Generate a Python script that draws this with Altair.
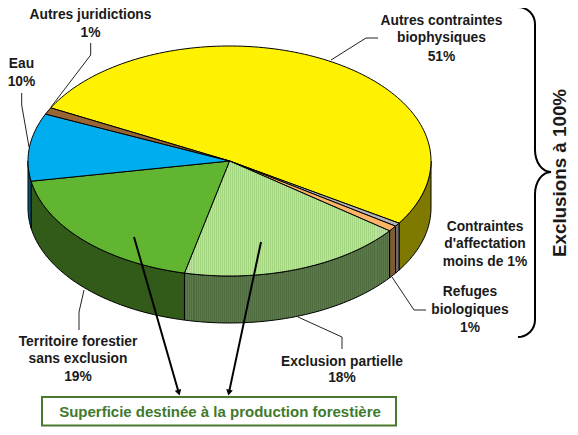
import math
import altair as alt
import pandas as pd

# ---- chart values ----
names = ["Autres contraintes biophysiques", "Contraintes d'affectation", "Refuges biologiques",
         "Exclusion partielle", "Territoire forestier sans exclusion", "Eau", "Autres juridictions"]
shares = [51.45, 0.5, 0.8, 18.2, 18.6, 9.5, 0.95]
top_colors = ["#FFF200", "#B4B4B4", "#FFB566", "#B5E096", "#62B531", "#00AEEF", "#996633"]
side_colors = ["#7F7900", "#6E6E6E", "#7F5B33", "#5C7A4B", "#325A19", "#005777", "#4C3319"]
start_angle = 152.5

label_lines = [
    (90.5, 15, "Autres juridictions"), (90.5, 33, "1%"),
    (21.5, 64, "Eau"), (21.5, 82, "10%"),
    (441.5, 21, "Autres contraintes"), (441.5, 38, "biophysiques"), (441.5, 57, "51%"),
    (485, 227, "Contraintes"), (485, 244, "d'affectation"), (485, 262, "moins de 1%"),
    (470, 292, "Refuges"), (470, 310, "biologiques"), (470, 328, "1%"),
    (342, 362, "Exclusion partielle"), (342, 378, "18%"),
    (78, 342, "Territoire forestier"), (78, 359, "sans exclusion"), (78, 377, "19%"),
]
leaders = [
    [(90.7, 43), (90.7, 55), (51, 107)],
    [(21.7, 93), (21.7, 105), (29, 147)],
    [(378, 38), (366, 38), (331, 60)],
    [(426, 310), (414, 310), (392, 277)],
    [(342, 349), (342, 337), (298, 317)],
    [(79, 330), (79, 312), (84, 290)],
]
arrows = [[(134, 237), (180, 397)], [(261, 242), (228, 397)]]

# ---- geometry helpers (pie is projected as an ellipse) ----
CX, CY, RX, RY, DEPTH = 229.5, 161, 201.5, 115, 47


def rim(t, dy=0):
    r = math.radians(t)
    return [CX + RX * math.cos(r), CY - RY * math.sin(r) + dy]


def arc(a, b, dy=0):
    n = max(2, int(abs(b - a) / 1.5) + 1)
    return [rim(a + (b - a) * i / (n - 1), dy) for i in range(n)]


def poly(points, name):
    pts = list(points) + [points[0]]
    return {"type": "Feature", "properties": {"name": name},
            "geometry": {"type": "Polygon", "coordinates": [pts]}}


def stripes(c1, c2, width, period=2.0):
    n = int(width / period)
    stops = []
    for i in range(n):
        a, b, c = i / n, (i + 0.5) / n, (i + 1) / n
        stops += [alt.GradientStop(offset=a, color=c1), alt.GradientStop(offset=b, color=c1),
                  alt.GradientStop(offset=b, color=c2), alt.GradientStop(offset=c, color=c2)]
    return alt.Gradient(gradient="linear", stops=stops, x1=0, x2=1, y1=0, y2=0)


proj = alt.Projection(type="identity", scale=1, translate=[-8, -8])
xs = alt.Scale(domain=[8, 570], range=[0, 562])
ys = alt.Scale(domain=[8, 427], range=[0, 419])

layers = []


def shape_layer(feature, fill, width=1.0):
    return alt.Chart(alt.Data(values=[feature], format=alt.DataFormat(type="json"))).mark_geoshape(
        fill=fill, stroke="#000000", strokeWidth=width, strokeJoin="round"
    ).project(**proj.to_dict())


angle = start_angle
spans = []
for s in shares:
    spans.append((angle, angle - s * 3.6))
    angle -= s * 3.6

# visible side walls (front half of the rim only)
for i, (a, b) in enumerate(spans):
    for off in (0, 360):
        hi = min(a + off, 0)
        lo = max(b + off, -180)
        if hi > lo:
            pts = arc(hi, lo) + arc(lo, hi, DEPTH)
            fill = side_colors[i]
            if i == 3:
                fill = stripes("#5C7A4B", "#4E6C3E", max(p[0] for p in pts) - min(p[0] for p in pts))
            layers.append(shape_layer(poly(pts, names[i]), fill))

# top wedges
for i, (a, b) in enumerate(spans):
    pts = [[CX, CY]] + arc(a, b)
    fill = top_colors[i]
    if i == 3:
        fill = stripes("#BCE4A0", "#A4D682", max(p[0] for p in pts) - min(p[0] for p in pts))
    layers.append(shape_layer(poly(pts, names[i]), fill))

# leader lines
rows = []
for k, line in enumerate(leaders):
    for j, (x, y) in enumerate(line):
        rows.append({"id": k, "o": j, "x": x, "y": y})
layers.append(alt.Chart(pd.DataFrame(rows)).mark_line(color="#222222", strokeWidth=1).encode(
    x=alt.X("x:Q", scale=xs, axis=None), y=alt.Y("y:Q", scale=ys, axis=None),
    detail="id:N", order="o:Q"))

# arrows
rows, heads = [], []
for k, ((x0, y0), (x1, y1)) in enumerate(arrows):
    L = math.hypot(x1 - x0, y1 - y0)
    ux, uy = (x1 - x0) / L, (y1 - y0) / L
    rows += [{"id": k, "o": 0, "x": x0, "y": y0}, {"id": k, "o": 1, "x": x1 - ux * 5, "y": y1 - uy * 5}]
    ang = (-math.degrees(math.atan2(ux, uy))) % 360
    heads.append({"x": x1 - ux * 4.5, "y": y1 - uy * 4.5, "a": ang})
layers.append(alt.Chart(pd.DataFrame(rows)).mark_line(color="#000000", strokeWidth=2).encode(
    x=alt.X("x:Q", scale=xs, axis=None), y=alt.Y("y:Q", scale=ys, axis=None),
    detail="id:N", order="o:Q"))
layers.append(alt.Chart(pd.DataFrame(heads)).mark_point(shape="triangle-down", filled=True, color="#000000", size=45, opacity=1).encode(
    x=alt.X("x:Q", scale=xs, axis=None), y=alt.Y("y:Q", scale=ys, axis=None),
    angle=alt.Angle("a:Q", scale=None)))

# brace (moved slightly left: the page gives the chart only 562 px of width)
BX, BR = 535, 17
brace = []


def quarter(cx, cy, a, b, rx, ry):
    for i in range(9):
        t = math.radians(a + (b - a) * i / 8)
        brace.append({"x": cx + rx * math.cos(t), "y": cy + ry * math.sin(t)})


quarter(BX - BR, 7 + BR, -90, 0, BR, BR)
quarter(BX + 16, 150, 180, 90, 16, 22)
quarter(BX + 16, 194, 270, 180, 16, 22)
quarter(BX - BR, 337 - BR, 0, 90, BR, BR)
for o, r in enumerate(brace):
    r["o"] = o
layers.append(alt.Chart(pd.DataFrame(brace)).mark_line(color="#000000", strokeWidth=2).encode(
    x=alt.X("x:Q", scale=xs, axis=None), y=alt.Y("y:Q", scale=ys, axis=None), order="o:Q"))

# box
layers.append(alt.Chart(pd.DataFrame([{"x": 42, "x2": 396, "y": 397, "y2": 425.5}])).mark_rect(
    fill="#FFFFFF", stroke="#4A7A2E", strokeWidth=2).encode(
    x=alt.X("x:Q", scale=xs, axis=None), x2="x2:Q", y=alt.Y("y:Q", scale=ys, axis=None), y2="y2:Q"))

FONT = "Liberation Sans"
layers.append(alt.Chart(pd.DataFrame([{"x": 220, "y": 412, "t": "Superficie destinée à la production forestière"}])).mark_text(
    font=FONT, fontSize=15, fontWeight="bold", color="#3F7A2D", align="center", baseline="middle").encode(
    x=alt.X("x:Q", scale=xs, axis=None), y=alt.Y("y:Q", scale=ys, axis=None), text="t:N"))

layers.append(alt.Chart(pd.DataFrame(label_lines, columns=["x", "y", "t"])).mark_text(
    font=FONT, fontSize=13.8, fontWeight="bold", color="#1A1A1A", align="center", baseline="middle").encode(
    x=alt.X("x:Q", scale=xs, axis=None), y=alt.Y("y:Q", scale=ys, axis=None), text="t:N"))

layers.append(alt.Chart(pd.DataFrame([{"x": 559.5, "y": 173, "t": "Exclusions à 100%"}])).mark_text(
    font=FONT, fontSize=18.8, fontWeight="bold", color="#1A1A1A", align="center", baseline="middle", angle=270).encode(
    x=alt.X("x:Q", scale=xs, axis=None), y=alt.Y("y:Q", scale=ys, axis=None), text="t:N"))

chart = alt.layer(*layers).properties(
    width=562, height=419, padding=0, background="#FFFFFF",
    autosize=alt.AutoSizeParams(type="none")
).configure_view(stroke=None)
chart.save("out.html", embed_options={"renderer": "svg", "actions": False})
